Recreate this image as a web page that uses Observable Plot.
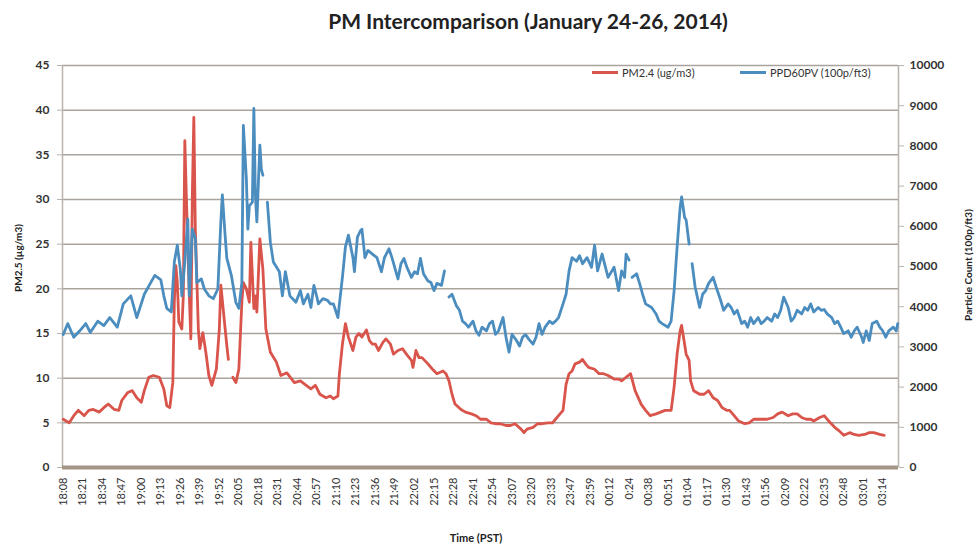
<!DOCTYPE html>
<html>
<head>
<meta charset="utf-8">
<script src="https://cdn.jsdelivr.net/npm/d3@7"></script>
<script src="https://cdn.jsdelivr.net/npm/@observablehq/plot@0.6"></script>
<style>
  html, body { margin: 0; padding: 0; background: #fff; }
  #wrap { position: relative; width: 979px; height: 546px; font-family: Lato, "Open Sans", sans-serif; color: #333; }
  #chart { position: absolute; left: 0; top: 0; }
  .abs { position: absolute; white-space: nowrap; }
  #title { left: 278px; width: 500px; top: 8px; text-align: center; font-size: 21px; font-weight: bold; color: #222; }
  .ylab { font-size: 10px; font-weight: bold; color: #222; transform: translate(-50%, -50%) rotate(-90deg); }
  #xlab { font-size: 11px; font-weight: bold; color: #222; transform: translate(-50%, -50%); left: 476px; top: 537px; }
  .leg { font-size: 11px; color: #333; top: 66px; display: flex; align-items: center; }
  .leg span.sw { display: inline-block; width: 26px; height: 2.5px; margin-right: 4px; }
</style>
</head>
<body>
<div id="wrap">
  <div id="chart"></div>
  <div id="title" class="abs">PM Intercomparison (January 24-26, 2014)</div>
  <div class="abs ylab" style="left:18px; top:258px;">PM2.5 (µg/m3)</div>
  <div class="abs ylab" style="left:968px; top:265px;">Particle Count (100p/ft3)</div>
  <div id="xlab" class="abs">Time (PST)</div>
  <div id="legend"></div>
</div>
<script>
// Category axis: one category per reading; every 13th category is labelled
const timeLabels = ["18:08","18:21","18:34","18:47","19:00","19:13","19:26","19:39","19:52","20:05","20:18","20:31","20:44","20:57","21:10","21:23","21:36","21:49","22:02","22:15","22:28","22:41","22:54","23:07","23:20","23:33","23:47","23:59","00:12","0:24","00:38","00:51","01:04","01:17","01:30","01:43","01:56","02:09","02:22","02:35","02:48","03:01","03:14"];
const labelStep = 13;
const categoryCount = 557;

const pmTicks = [0,5,10,15,20,25,30,35,40,45];
const countTicks = [0,1000,2000,3000,4000,5000,6000,7000,8000,9000,10000];
const pmMax = 45, countMax = 10000;

const seriesNames = ["PM2.4 (ug/m3)", "PPD60PV (100p/ft3)"];
const seriesColors = ["#d9544b", "#4b8dbf"];

// [category index, PM2.5 ug/m3]  (null = gap)
const pm25Series = [[0,5.4],[4,5.0],[7,5.8],[10,6.4],[14,5.8],[17,6.4],[20,6.5],[24,6.2],[27,6.7],[30,7.1],[34,6.5],[37,6.4],[39,7.5],[43,8.4],[46,8.6],[49,7.8],[52,7.3],[54,8.6],[57,10.1],[60,10.3],[64,10.1],[67,8.8],[69,6.9],[71,6.7],[73,9.5],[74,18.5],[75,22.6],[76,20.7],[77,16.3],[79,15.5],[80,19.2],[81,36.6],[82,30.5],[84,19.2],[85,14.4],[86,30.5],[87,39.2],[88,26.7],[90,15.5],[91,13.3],[93,15.1],[95,12.9],[97,10.3],[99,9.2],[102,11.0],[104,15.5],[105,20.4],[107,17.0],[109,13.6],[110,12.1],[111,null],[113,10.1],[115,9.5],[117,11.0],[119,18.5],[120,20.7],[122,20.0],[124,18.5],[125,25.2],[127,17.8],[128,19.2],[129,17.4],[131,25.6],[133,22.2],[135,15.5],[138,12.9],[142,11.8],[145,10.3],[149,10.6],[154,9.5],[158,9.7],[161,9.3],[165,8.8],[168,9.2],[171,8.2],[175,7.8],[178,8.0],[180,7.7],[183,8.0],[184,10.5],[186,13.8],[188,16.1],[190,14.6],[193,13.1],[195,14.6],[197,15.0],[199,14.6],[202,15.4],[204,14.2],[206,13.8],[208,13.8],[210,13.1],[213,14.0],[215,14.4],[218,13.8],[220,12.7],[223,13.1],[226,13.3],[229,12.6],[232,12.0],[233,11.2],[235,13.1],[237,12.3],[239,12.3],[243,11.6],[246,11.0],[249,10.5],[253,10.8],[255,10.5],[257,9.7],[259,8.2],[261,7.1],[265,6.5],[268,6.2],[272,6.0],[275,5.8],[278,5.4],[282,5.4],[285,5.0],[288,4.9],[291,4.9],[295,4.7],[298,4.7],[301,4.9],[305,4.3],[307,3.9],[309,4.3],[313,4.5],[316,4.9],[319,4.9],[323,5.0],[326,5.0],[328,5.4],[330,5.8],[333,6.4],[335,9.3],[337,10.5],[339,10.8],[341,11.6],[344,11.8],[346,12.1],[348,11.6],[350,11.2],[354,11.0],[357,10.5],[360,10.5],[363,10.3],[367,9.9],[370,9.9],[372,9.7],[375,10.1],[378,10.5],[381,8.6],[385,7.1],[388,6.4],[391,5.8],[395,6.0],[398,6.2],[401,6.4],[405,6.4],[407,9.0],[409,12.7],[411,15.3],[412,15.9],[414,13.8],[415,12.7],[417,12.0],[418,9.7],[420,8.6],[424,8.2],[427,8.2],[430,8.6],[433,7.8],[436,7.5],[439,6.7],[442,6.4],[444,6.4],[447,5.8],[450,5.2],[454,4.9],[457,5.0],[460,5.4],[465,5.4],[469,5.4],[473,5.6],[476,6.0],[479,6.2],[483,5.8],[486,6.0],[489,6.0],[492,5.6],[495,5.4],[498,5.4],[500,5.2],[504,5.6],[507,5.8],[510,5.2],[514,4.5],[517,4.1],[520,3.6],[524,3.9],[527,3.7],[530,3.6],[534,3.7],[537,3.9],[540,3.9],[544,3.7],[547,3.6]];

// [category index, particle count 100p/ft3]  (null = gap)
const countSeries = [[0,3310],[3,3580],[7,3240],[11,3400],[15,3580],[18,3360],[23,3640],[27,3530],[31,3730],[36,3490],[40,4070],[45,4270],[49,3730],[54,4310],[58,4580],[61,4780],[65,4670],[67,4270],[69,3960],[72,3870],[74,5110],[76,5530],[78,4930],[79,4270],[81,5110],[83,6180],[84,4270],[86,5930],[88,5690],[89,4600],[92,4690],[94,4440],[97,4270],[100,4200],[103,4440],[105,6110],[106,6780],[108,5690],[109,5200],[112,4780],[115,4110],[117,3960],[119,4600],[120,8510],[122,7180],[123,5930],[124,6510],[126,6600],[127,8930],[128,6780],[129,6110],[131,8020],[132,7420],[133,7270],[134,null],[136,6600],[138,5600],[140,5110],[144,4870],[146,4270],[148,4870],[151,4270],[155,4110],[158,4400],[160,4070],[163,4310],[165,3980],[167,4530],[169,4240],[170,4070],[173,4200],[176,4160],[178,4070],[180,4070],[183,3730],[184,4070],[186,4730],[188,5490],[190,5780],[193,5220],[194,4870],[196,5730],[198,5890],[199,5930],[201,5220],[203,5400],[206,5310],[209,5220],[212,4870],[214,5220],[217,5440],[219,5220],[223,4690],[225,5070],[227,5200],[229,4980],[232,4730],[234,4870],[236,4820],[238,5200],[240,4820],[243,4640],[245,4600],[247,4400],[249,4580],[252,4530],[254,4890],[255,null],[257,4240],[259,4310],[262,4020],[264,3910],[266,3640],[268,3580],[270,3490],[273,3640],[275,3400],[277,3290],[279,3490],[282,3400],[284,3580],[286,3640],[288,3310],[290,3400],[293,3730],[295,3240],[297,2870],[299,3310],[302,3160],[304,3020],[306,3240],[308,3310],[310,3200],[313,3070],[315,3240],[317,3580],[319,3310],[321,3490],[324,3640],[326,3580],[328,3640],[330,3730],[333,4070],[335,4310],[337,4890],[339,5220],[342,5130],[344,5270],[346,5070],[349,5220],[352,4980],[354,5530],[356,4890],[359,5310],[363,4730],[367,4980],[370,4400],[372,4890],[374,4730],[375,5310],[377,5160],[378,null],[379,4730],[382,4820],[384,4580],[386,4310],[388,4070],[392,3980],[395,3820],[397,3640],[399,3580],[403,3490],[405,3640],[407,4400],[409,5490],[411,6470],[412,6730],[414,6220],[415,6160],[417,5560],[418,null],[419,5070],[421,4490],[424,3980],[426,4310],[428,4400],[430,4580],[433,4730],[435,4490],[438,4160],[440,3910],[443,4070],[445,3980],[447,3820],[449,3910],[452,3580],[454,3640],[456,3490],[458,3730],[460,3580],[463,3730],[465,3580],[467,3640],[469,3730],[472,3640],[474,3820],[476,3730],[478,3910],[480,4240],[483,3980],[485,3640],[487,3730],[489,3910],[492,3820],[494,3980],[496,3910],[498,4070],[500,3870],[503,3980],[505,3910],[507,3930],[509,3820],[512,3730],[514,3580],[516,3640],[518,3490],[520,3330],[523,3400],[525,3240],[527,3400],[529,3490],[532,3240],[533,3110],[535,3400],[537,3160],[539,3580],[542,3640],[544,3490],[546,3400],[548,3240],[550,3400],[553,3490],[555,3400],[556,3580]];

const toLeft = c => (c == null ? NaN : c * pmMax / countMax);
const labelIdx = timeLabels.map((_, k) => k * labelStep);
const gridColor = "#a9a39d";
const axisColor = "#b9b4ae";

const chart = Plot.plot({
  width: 979,
  height: 546,
  marginTop: 65,
  marginRight: 81,
  marginBottom: 79,
  marginLeft: 62,
  style: { fontFamily: "Lato, 'Open Sans', sans-serif", background: "transparent", color: "#333", overflow: "visible" },
  x: { domain: [-0.5, categoryCount - 0.5] },
  y: { domain: [0, pmMax] },
  marks: [
    Plot.ruleY(pmTicks.filter(v => v > 0), { stroke: gridColor, strokeWidth: 1.5 }),
    Plot.ruleX([-0.5, categoryCount - 0.5], { stroke: axisColor, strokeWidth: 1.5 }),
    Plot.line(pm25Series, { x: d => d[0], y: d => (d[1] == null ? NaN : d[1]), stroke: seriesColors[0], strokeWidth: 2.8, strokeLinejoin: "round" }),
    Plot.line(countSeries, { x: d => d[0], y: d => toLeft(d[1]), stroke: seriesColors[1], strokeWidth: 2.8, strokeLinejoin: "round" }),
    Plot.ruleY([0], { stroke: "#a39686", strokeWidth: 4 }),
    Plot.axisY(pmTicks, { anchor: "left", tickSize: 5, tickPadding: 8, fontSize: 12, fontWeight: "bold", stroke: axisColor, label: null }),
    Plot.axisY(countTicks.map(toLeft), { anchor: "right", tickSize: 5, tickPadding: 6, fontSize: 12, fontWeight: "bold", stroke: axisColor, label: null, textAnchor: "start", tickFormat: d => String(Math.round(d * countMax / pmMax)) }),
    Plot.axisX(labelIdx, { tickSize: 0, tickPadding: 10, tickRotate: -90, fontSize: 11, label: null, tickFormat: d => timeLabels[Math.round(d / labelStep)] })
  ]
});
document.getElementById("chart").appendChild(chart);

// legend (inside plot, top right)
const legend = document.getElementById("legend");
const legX = [592, 740];
seriesNames.forEach((name, k) => {
  const el = document.createElement("div");
  el.className = "abs leg";
  el.style.left = legX[k] + "px";
  el.innerHTML = `<span class="sw" style="background:${seriesColors[k]}"></span>${name}`;
  legend.appendChild(el);
});
</script>
</body>
</html>
